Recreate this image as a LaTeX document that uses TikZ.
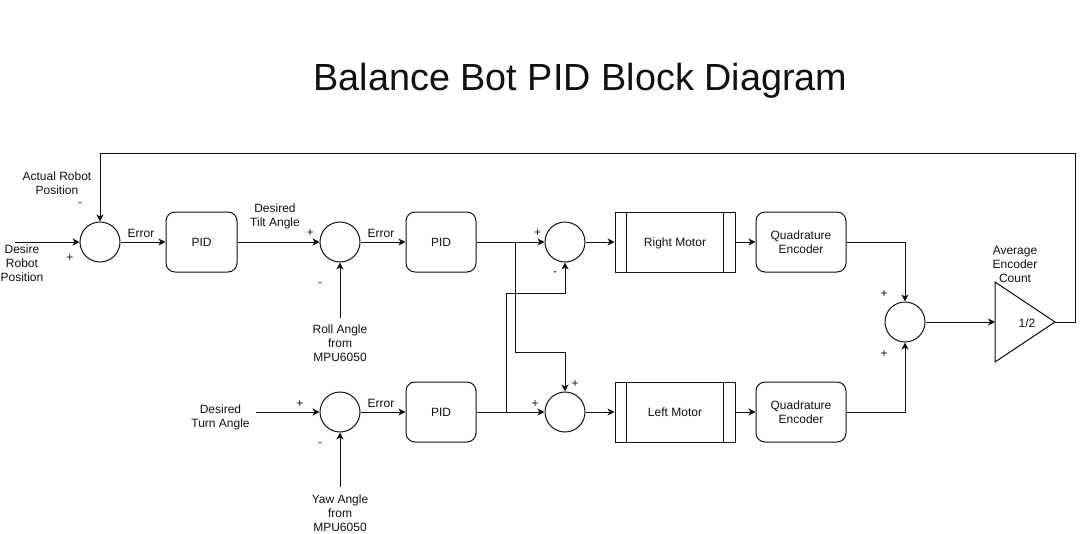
\documentclass[tikz,border=0pt]{standalone}
\usepackage{fontspec}
\setmainfont{Liberation Sans}
\usetikzlibrary{arrows.meta}
\definecolor{ink}{HTML}{111111}
\begin{document}
\begin{tikzpicture}[x=1pt,y=-1pt,
  every node/.style={font=\fontsize{12}{14}\selectfont,text=ink},
  sumj/.style={draw=ink,circle,minimum size=40pt,inner sep=0pt,line width=1pt},
  pidbox/.style={draw=ink,rounded corners=9pt,minimum width=70pt,minimum height=60pt,line width=1pt,text height=8.6pt,text depth=-1pt},
  encbox/.style={draw=ink,rounded corners=9pt,minimum width=90pt,minimum height=60pt,line width=1pt,align=center,text depth=-2pt},
  motorbox/.style={draw=ink,minimum width=120pt,minimum height=60pt,line width=1pt,text height=8.6pt,text depth=-1pt},
  lbl/.style={align=center,inner sep=0pt,yshift=-1.3pt},
  conn/.style={draw=ink,line width=1pt},
  arr/.style={conn,-{Stealth[length=7pt,width=7pt,inset=2pt]}},
]
\fill[white] (0,0) rectangle (1084,533);
\useasboundingbox (0,0) rectangle (1084,533);

\node[font=\fontsize{37.8}{40}\selectfont,anchor=base] (title) at (580.5,90.7) {Balance Bot PID Block Diagram};

% summing junctions
\node[sumj] (s1) at (100,242) {};
\node[sumj] (s2) at (340,242) {};
\node[sumj] (s3) at (565,242) {};
\node[sumj] (s4) at (565,412) {};
\node[sumj] (s5) at (905,322) {};
\node[sumj] (s6) at (340,412) {};

% blocks
\node[pidbox,minimum width=71pt] (pid1) at (201.5,242) {PID};
\node[pidbox] (pid2) at (441,242) {PID};
\node[pidbox] (pid3) at (441,412) {PID};
\node[motorbox] (rm) at (675,242) {Right Motor};
\node[motorbox] (lm) at (675,412) {Left Motor};
\foreach \m in {rm,lm}{
  \draw[conn] ([xshift=12pt]\m.north west) -- ([xshift=12pt]\m.south west);
  \draw[conn] ([xshift=-12pt]\m.north east) -- ([xshift=-12pt]\m.south east);
}
\node[encbox] (qe1) at (801,242) {Quadrature\\Encoder};
\node[encbox] (qe2) at (801,412) {Quadrature\\Encoder};

% averaging triangle
\draw[conn,line join=miter] (995,282) -- (1055,322) -- (995,362) -- cycle;
\coordinate (triin) at (995,322);
\coordinate (triout) at (1055,322);
\node[lbl] (half) at (1027,322) {1/2};

% text labels
\node[lbl] (tdes) at (22,262) {Desire\\Robot\\Position};
\node[lbl] (tact) at (57,182) {Actual Robot\\Position};
\node[lbl] (ttilt) at (275,215) {Desired\\Tilt Angle};
\node[lbl] (troll) at (340,342) {Roll Angle\\from\\MPU6050};
\node[lbl] (tturn) at (220.5,416) {Desired\\Turn Angle};
\node[lbl] (tyaw) at (340,512) {Yaw Angle\\from\\MPU6050};
\node[lbl] (tavg) at (1015,263) {Average\\Encoder\\Count};
\node[lbl] (err1) at (141,232) {Error};
\node[lbl] (err2) at (381,232) {Error};
\node[lbl] (err3) at (381,402) {Error};

% signs
\node[lbl] (m1) at (80,203) {-};
\node[lbl] (p1) at (70,257) {+};
\node[lbl] (p2) at (310,232) {+};
\node[lbl] (m2) at (320,283) {-};
\node[lbl] (p3) at (537.5,232) {+};
\node[lbl] (m3) at (555,272) {-};
\node[lbl] (p4) at (535,403) {+};
\node[lbl] (p4b) at (575,383) {+};
\node[lbl] (p5) at (884,293) {+};
\node[lbl] (p5b) at (884,353) {+};
\node[lbl] (p6) at (300,403) {+};
\node[lbl] (m6) at (320,443) {-};

% free ends
\coordinate (din) at (15,242);
\coordinate (rollin) at (340,318);
\coordinate (turnin) at (256,412);
\coordinate (yawin) at (340,487);
\coordinate (b1) at (515,242);
\coordinate (b2) at (506,412);

% connectors
\draw[arr] (din) -- (s1.west);
\draw[arr] (triout) -| (1075,153) -| (s1.north);
\draw[arr] (s1.east) -- (pid1.west);
\draw[arr] (pid1.east) -- (s2.west);
\draw[arr] (rollin) -- (s2.south);
\draw[arr] (s2.east) -- (pid2.west);
\draw[arr] (pid2.east) -- (s3.west);
\draw[arr] (b1) -- (515,352) -| (s4.north);
\draw[arr] (turnin) -- (s6.west);
\draw[arr] (yawin) -- (s6.south);
\draw[arr] (s6.east) -- (pid3.west);
\draw[arr] (pid3.east) -- (s4.west);
\draw[arr] (b2) -- (506,293) -| (s3.south);
\draw[arr] (s3.east) -- (rm.west);
\draw[arr] (s4.east) -- (lm.west);
\draw[arr] (rm.east) -- (qe1.west);
\draw[arr] (lm.east) -- (qe2.west);
\draw[arr] (qe1.east) -| (s5.north);
\draw[arr] (qe2.east) -| (s5.south);
\draw[arr] (s5.east) -- (triin);
\end{tikzpicture}
\end{document}
